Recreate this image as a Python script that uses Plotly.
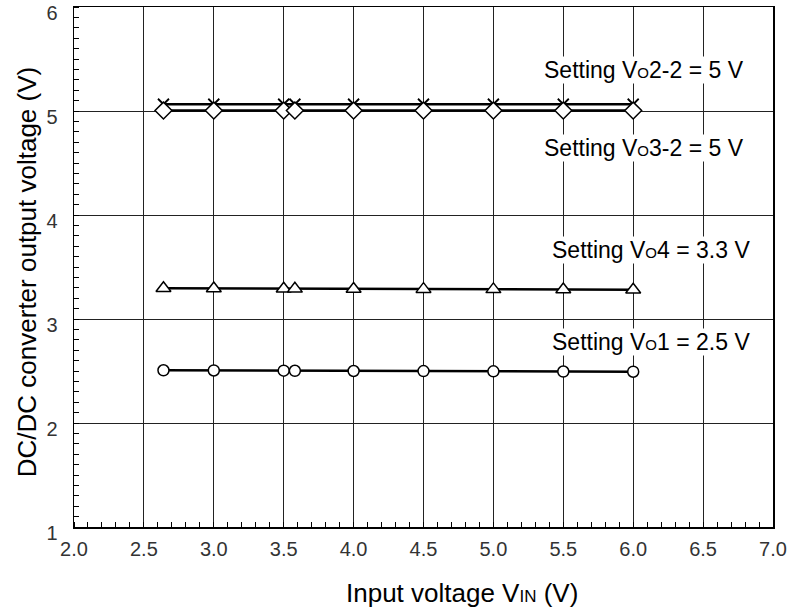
import plotly.graph_objects as go

vin = [2.64, 3.0, 3.5, 3.58, 4.0, 4.5, 5.0, 5.5, 6.0]
vo2_2 = [5.065, 5.065, 5.065, 5.065, 5.065, 5.065, 5.065, 5.065, 5.065]
vo3_2 = [5.004, 5.004, 5.004, 5.004, 5.004, 5.004, 5.004, 5.004, 5.004]
vo4 = [3.295, 3.293, 3.291, 3.290, 3.289, 3.287, 3.285, 3.284, 3.282]
vo1 = [2.507, 2.505, 2.503, 2.502, 2.500, 2.499, 2.497, 2.495, 2.493]

x_ticks = [2.0, 2.5, 3.0, 3.5, 4.0, 4.5, 5.0, 5.5, 6.0, 6.5, 7.0]
y_ticks = [1, 2, 3, 4, 5, 6]

SUB = "<span style='font-size:15px'>O</span>"
labels = [
    (f"Setting V{SUB}2-2 = 5 V", 6.08, 5.395),
    (f"Setting V{SUB}3-2 = 5 V", 6.08, 4.645),
    (f"Setting V{SUB}4 = 3.3 V", 6.13, 3.665),
    (f"Setting V{SUB}1 = 2.5 V", 6.13, 2.78),
]

FONT = "Liberation Sans, Arial, sans-serif"

fig = go.Figure()
line = dict(color="black", width=2.5)
fig.add_trace(go.Scatter(x=vin, y=vo1, mode="lines+markers", line=line,
                         marker=dict(symbol="circle", size=11, color="white", line=dict(color="black", width=1.5))))
fig.add_trace(go.Scatter(x=vin, y=vo4, mode="lines+markers", line=line,
                         marker=dict(symbol="triangle-up", size=13, color="white", line=dict(color="black", width=1.5))))
fig.add_trace(go.Scatter(x=vin, y=vo2_2, mode="lines+markers", line=line,
                         marker=dict(symbol="x-thin", size=11, color="black", line=dict(color="black", width=1.8))))
fig.add_trace(go.Scatter(x=vin, y=vo3_2, mode="lines+markers", line=line,
                         marker=dict(symbol="diamond", size=13, color="white", line=dict(color="black", width=1.5))))

for txt, x, y in labels:
    fig.add_annotation(x=x, y=y, xref="x", yref="y", text=txt, showarrow=False,
                       font=dict(family=FONT, size=23, color="black"), bgcolor="white",
                       borderpad=0)

fig.add_annotation(text="Input voltage V<span style='font-size:17px'>IN</span> (V)",
                   xref="paper", yref="paper", x=(462 - 74) / (773 - 74), y=-66 / 520,
                   xanchor="center", yanchor="middle",
                   showarrow=False, font=dict(family=FONT, size=26, color="black"))
fig.add_annotation(text="DC/DC converter output voltage (V)",
                   xref="paper", yref="paper", x=-47 / 699, y=0.49, textangle=-90,
                   xanchor="center", yanchor="middle",
                   showarrow=False, font=dict(family=FONT, size=26, color="black"))

fig.update_layout(
    width=789, height=609,
    margin=dict(l=74, r=16, t=7, b=82),
    paper_bgcolor="white", plot_bgcolor="white",
    showlegend=False, hovermode=False,
    font=dict(family=FONT, color="#222"),
)
fig.update_xaxes(range=[2.0, 7.0], tickvals=x_ticks, ticktext=[f"{v:.1f}" for v in x_ticks],
                 showgrid=True, gridcolor="#222", gridwidth=1, automargin=False,
                 showline=True, linecolor="black", linewidth=1.5, mirror=True,
                 ticks="", tickfont=dict(size=20, color="#333"), ticklabeloverflow="allow",
                 ticklabelstandoff=3,
                 minor=dict(dtick=0.1, ticks="inside", ticklen=5, tickcolor="black", showgrid=False),
                 zeroline=False)
fig.update_yaxes(range=[1, 6], tickvals=y_ticks, ticktext=[str(v) for v in y_ticks],
                 showgrid=True, gridcolor="#222", gridwidth=1, automargin=False,
                 showline=True, linecolor="black", linewidth=1.5, mirror=True,
                 ticks="", tickfont=dict(size=20, color="#333"), ticklabelshift=6,
                 ticklabelstandoff=11, ticklabeloverflow="allow",
                 minor=dict(dtick=0.1, ticks="inside", ticklen=5, tickcolor="black", showgrid=False),
                 zeroline=False)

fig.write_html("out.html", config={"displayModeBar": False, "staticPlot": True},
               post_script="document.body.style.margin='0';document.body.style.overflow='hidden';")
